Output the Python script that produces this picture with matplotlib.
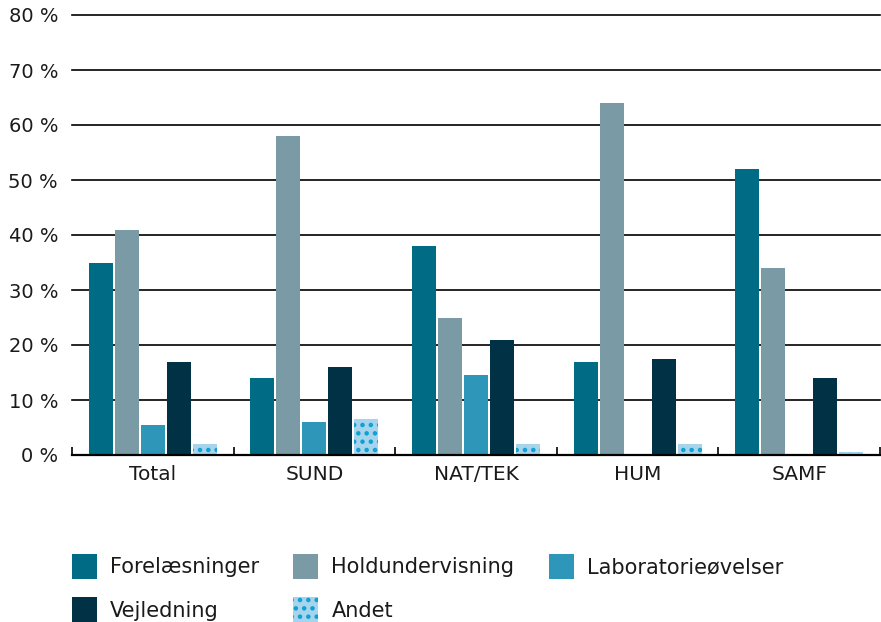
import matplotlib
matplotlib.use('Agg')
import matplotlib.pyplot as plt
import numpy as np

# data
grupper = ['Total', 'SUND', 'NAT/TEK', 'HUM', 'SAMF']
serier = ['Forelæsninger', 'Holdundervisning', 'Laboratorieøvelser', 'Vejledning', 'Andet']
forelaesninger = [35, 14, 38, 17, 52]
holdundervisning = [41, 58, 25, 64, 34]
laboratorie = [5.5, 6, 14.5, 0, 0]
vejledning = [17, 16, 21, 17.5, 14]
andet = [2, 6.5, 2, 2, 0.5]
y_ticks = [0, 10, 20, 30, 40, 50, 60, 70, 80]

vaerdier = [forelaesninger, holdundervisning, laboratorie, vejledning, andet]
farver = ['#006b85', '#7a9ba6', '#2e96b9', '#003145', '#a6d4ec']

plt.rcParams['font.family'] = ['DejaVu Sans']
plt.rcParams['hatch.linewidth'] = 2.0

fig = plt.figure(figsize=(8.81, 6.22), dpi=100)
W, H = 881, 622
ax = fig.add_axes([72 / W, (H - 455) / H, (880 - 72) / W, 440 / H])

x = np.arange(len(grupper))
bredde = 24 / 161.5
skridt = 26 / 161.5

handles = []
for i, (navn, v, c) in enumerate(zip(serier, vaerdier, farver)):
    pos = x + (i - 2) * skridt
    if navn == 'Andet':
        b = ax.bar(pos, v, bredde, color=c, edgecolor='#0ba0d4', linewidth=0,
                   hatch='..', label=navn, zorder=3)
    else:
        b = ax.bar(pos, v, bredde, color=c, linewidth=0, label=navn, zorder=3)
    handles.append(b)

ax.set_xlim(-0.5, 4.5)
ax.set_ylim(0, 80)
ax.set_yticks(y_ticks)
ax.set_yticklabels([f'{t} %' for t in y_ticks])
ax.set_xticks(x)
ax.set_xticklabels(grupper)
ax.set_xticks(np.arange(-0.5, 5, 1), minor=True)

for t in y_ticks[1:]:
    ax.axhline(t, color='black', linewidth=1.2, zorder=1, clip_on=False)

for s in ['top', 'right', 'left']:
    ax.spines[s].set_visible(False)
ax.spines['bottom'].set_linewidth(1.6)
ax.spines['bottom'].set_zorder(4)

ax.tick_params(axis='y', length=0, pad=10, labelsize=14, labelcolor='#1a1a1a')
ax.tick_params(axis='x', which='major', length=0, pad=7, labelsize=14.5, labelcolor='#1a1a1a')
ax.tick_params(axis='x', which='minor', direction='in', length=6, width=1.2)

# raekkefoelge saa legenden fyldes raekkevis
orden = [0, 3, 1, 4, 2]
fig.legend([handles[i] for i in orden], [serier[i] for i in orden],
           loc='upper left', bbox_to_anchor=(72 / W, 1 - 554 / H), ncol=3,
           frameon=False, fontsize=15, handlelength=1.2, handleheight=1.45,
           handletextpad=0.62, columnspacing=1.65, labelspacing=0.9,
           borderpad=0, borderaxespad=0, labelcolor='#1a1a1a')

fig.savefig('out.png', dpi=100)
